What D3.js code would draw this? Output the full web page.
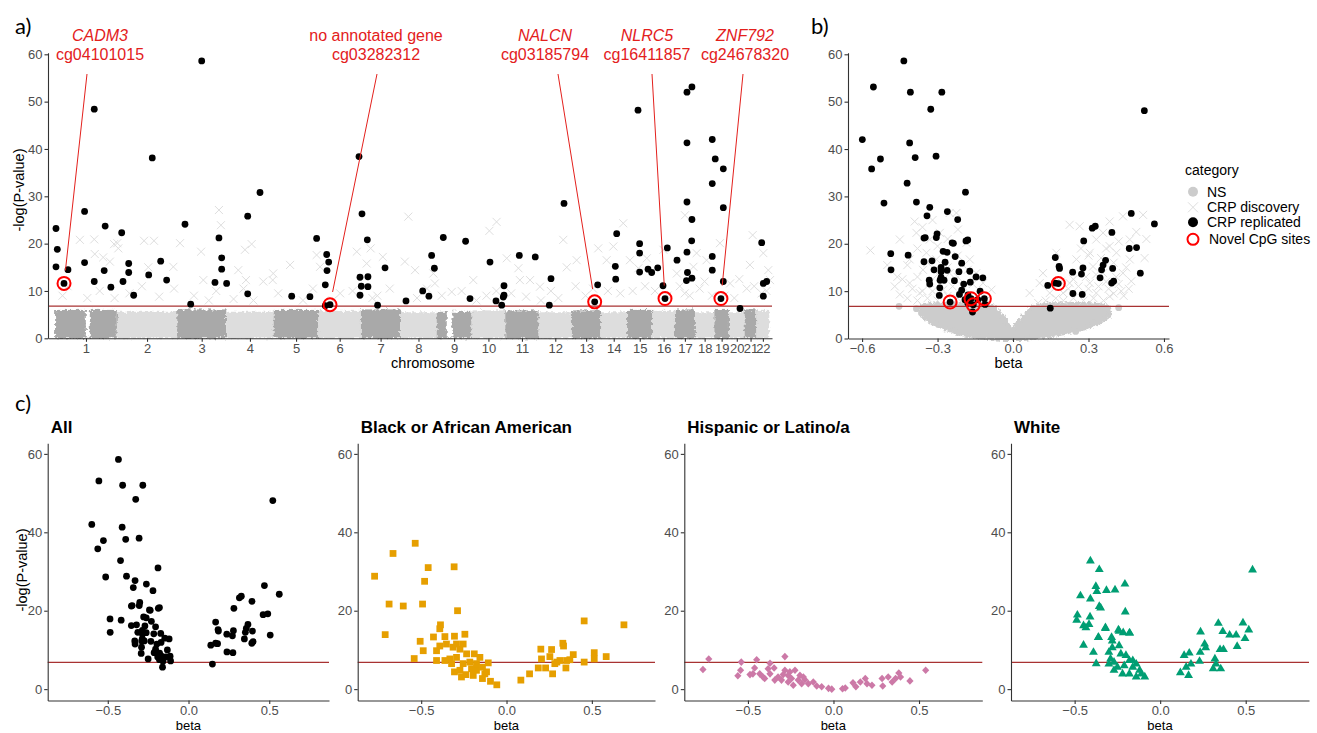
<!DOCTYPE html>
<html>
<head>
<meta charset="utf-8">
<script src="https://cdn.jsdelivr.net/npm/d3@7"></script>
<style>
  body { margin: 0; background: #fff; }
  svg text { font-family: "Liberation Sans", Arial, sans-serif; }
</style>
</head>
<body>
<svg id="fig" width="1317" height="733"></svg>
<script>
// ---- data ----
const chromosomes = ['1','2','3','4','5','6','7','8','9','10','11','12','13','14','15','16','17','18','19','20','21','22'];
// hg19 chromosome lengths, Mb
const chromLengths = [249.25,243.2,198.0,191.15,180.9,171.1,159.1,146.4,141.2,135.5,135.0,133.85,115.2,107.35,102.5,90.35,81.2,78.1,59.1,63.0,48.1,51.3];
// top of the dense non-significant cloud per chromosome
const bandTop = [6.0,5.6,6.1,5.6,6.0,5.8,6.1,5.5,5.6,5.9,5.9,5.5,5.9,5.5,6.0,5.8,6.1,5.5,6.0,5.5,6.1,5.8];
const bandGaps = [[124,140],[1580,1603]];
const threshold = 6.8;

// replicated CpGs, manhattan: [cumulative genome position Mb, -log p]
const replicatedManhattan = [
  [3.6,23.2],[9,18.8],[3.6,15.1],[52,14.5],[119,26.8],[119,16.0],[158,12.0],[158,48.4],[202,23.7],[198,14.3],[225,10.8],
  [268.7,22.3],[274,12.0],[297,15.8],[297,13.9],[317,9.1],[377.6,13.4],[392,38.1],[426,16.3],[450,12.3],
  [524,24.1],[547,7.2],[591.4,58.6],[645,11.8],[661,21.2],[672,17.0],[672,14.6],
  [692,11.6],[777,25.8],[777,9.4],[826.6,30.8],
  [954.5,8.9],[1028,8.8],[1055,21.1],
  [1095.7,17.7],[1103.7,16.1],[1097,14.3],[1090,11.3],[1090,6.9],[1226,38.4],[1230,12.9],[1230,9.1],
  [1238,26.3],[1259.5,20.8],[1235.2,11.0],[1262,13.0],[1262,10.9],[1301,7.0],[1331,14.9],
  [1415.5,7.9],[1483,10.0],[1508,8.9],[1519,17.5],[1530,14.8],
  [1566,21.3],[1656,20.5],[1673.7,8.4],
  [1754.4,16.1],[1778.6,7.9],[1801.6,7.0],[1810.9,11.1],[1810.9,9.1],[1808,8.7],
  [1872.6,17.5],[1937,17.2],
  [2000.5,12.6],[1993.7,7.0],[2053,28.5],
  [2188.8,11.3],
  [2265.5,22.1],[2260,15.2],[2261.5,12.5],
  [2358,20.0],[2358,18.0],[2358,14.0],[2392,14.6],[2406.7,13.9],[2351.5,48.2],
  [2431,14.9],[2452.3,11.1],[2469.7,19.1],
  [2508.8,16.5],[2549,28.8],[2569,25.1],[2568,20.6],[2549,18.2],[2551,13.9],[2547,12.2],[2569,12.7],[2569,53.1],[2549,52.0],[2549,41.3],
  [2651,32.7],[2651,42.0],[2651,17.3],[2651,14.4],
  [2663,37.9],[2695.6,35.8],[2695.6,27.6],[2695.6,12.0],
  [2763,6.3],
  [2850.4,20.2],[2857,11.6],[2870.6,12.0],[2857,8.9]
];

// discovery-only CpGs, manhattan (light crosses)
const discoveryManhattan = [
  [100,20.8],[158,20.9],[160,17.8],[194,17.1],[238,19.9],[251,20.1],[255,19.0],[221,16.2],[359,20.6],[399,20.6],[376,15.0],
  [504,20.1],[477,15.1],[589,18.3],[598,12.3],[661,27.1],[669,23.9],[739,14.4],[766,18.7],[793,19.9],[770,12.3],[840,12.0],
  [880,13.7],[878,12.3],[948,15.5],[1055,17.6],[1069,15.1],[1217,18.3],[1257,15.8],[1273,19.0],[1322,17.2],[1425,25.7],
  [1411,16.2],[1452,14.4],[1526,13.7],[1532,11.6],[1687,12.3],[1752,22.7],[1781,24.6],[1822,16.9],[1869,14.8],[1916,12.3],
  [1875,12.3],[1956,10.9],[2050,20.8],[2064,15.0],[2104,16.5],[2191,19.0],[2225,16.5],[2252,19.4],[2292,24.3],[2319,16.5],
  [2353,14.8],[2387,16.9],[2454,18.7],[2508,13.7],[2541,26.0],[2575,15.1],[2588,18.0],[2628,16.5],[2682,20.1],[2723,11.6],
  [2803,15.5],[2814,21.8],[2857,18.0],[2877,14.4],[2884,12.3],
  [30,9.0],[130,8.5],[300,9.5],[420,8.8],[560,9.0],[720,8.3],[900,9.5],[1000,8.0],[1150,9.5],[1300,9.0],[1460,8.5],
  [1600,9.8],[1740,9.0],[1900,8.8],[2000,10.0],[2140,9.0],[2280,9.5],[2420,10.0],[2540,9.5],[2600,10.5],[2700,9.0],
  [2790,10.5],[2850,9.5],
  [50,11.0],[180,10.0],[240,8.5],[350,11.0],[480,10.5],[620,8.0],[650,10.0],[760,10.5],[800,8.0],[1040,10.5],[1120,8.0],
  [1200,10.0],[1280,8.5],[1350,10.5],[1500,10.5],[1560,9.0],[1640,10.0],[1700,8.0],[1780,10.0],[1840,9.5],[1960,8.0],
  [2030,8.5],[2100,11.0],[2170,10.5],[2230,10.0],[2330,10.0],[2380,11.0],[2470,9.0],[2520,11.0],[2560,9.0],[2620,12.0],
  [2650,9.0],[2740,8.5],[2760,12.5],[2820,11.0],[2870,10.0]
];

// novel CpG sites
const novelGenes = ['CADM3','no annotated gene','NALCN','NLRC5','ZNF792'];
const novelCpgs = ['cg04101015','cg03282312','cg03185794','cg16411857','cg24678320'];
const novelGenePos = [36,1109,2176.7,2460.4,2686];
const novelBeta = [0.18,-0.158,-0.25,-0.114,-0.167];
const novelLogp = [11.6,7.1,7.7,8.4,8.4];

// replicated CpGs, volcano: [beta, -log p]
const replicatedVolcano = [
  [-0.434,58.6],[-0.555,53.1],[-0.408,52.0],[-0.283,52.0],[-0.327,48.4],[-0.599,42.0],[-0.411,41.3],[-0.306,38.5],
  [-0.389,38.2],[-0.527,37.9],[-0.562,35.8],[-0.421,32.8],[-0.189,30.9],[-0.513,28.6],[-0.384,28.8],[-0.331,27.7],
  [-0.261,26.8],[-0.342,25.9],[-0.220,25.1],
  [-0.354,21.2],[-0.349,21.3],[-0.302,22.1],[-0.305,21.3],[-0.242,20.2],[-0.237,20.1],[-0.187,20.6],[-0.180,20.8],
  [-0.486,17.9],[-0.417,17.6],[-0.485,14.5],[-0.278,18.4],[-0.262,18.2],[-0.230,17.3],[-0.354,16.2],[-0.322,16.4],
  [-0.270,16.1],[-0.204,15.9],[-0.314,14.5],[-0.286,15.0],[-0.286,14.1],[-0.262,14.4],[-0.215,14.1],[-0.172,14.2],
  [-0.147,13.0],[-0.120,12.8],[-0.333,12.3],[-0.331,11.5],[-0.290,12.3],[-0.286,12.9],[-0.274,12.3],[-0.233,12.2],
  [-0.196,11.5],[-0.170,11.9],[-0.291,10.7],[-0.204,10.2],[-0.213,9.3],[-0.179,9.2],[-0.131,10.0],[-0.293,9.1],
  [-0.191,8.2],[-0.180,7.5],[-0.111,7.2],[-0.140,8.2],[-0.161,5.6],
  [0.522,48.1],[0.470,26.4],[0.562,24.2],[0.327,23.7],[0.315,23.3],[0.393,22.4],[0.281,20.6],[0.462,19.0],[0.491,19.2],
  [0.506,13.8],[0.168,17.1],[0.183,15.2],[0.185,14.8],[0.138,11.2],[0.168,11.7],[0.237,14.0],[0.278,14.9],[0.272,13.6],
  [0.238,9.5],[0.275,9.3],[0.368,16.5],[0.358,15.5],[0.352,14.5],[0.346,12.8],[0.396,14.8],[0.392,11.7],[0.400,12.1],
  [0.148,6.4]
];

// discovery-only CpGs, volcano (light crosses)
const discoveryVolcano = [
  [-0.567,18.6],[-0.46,13.0],[-0.45,9.3],[-0.391,24.7],[-0.384,22.3],[-0.344,18.1],[-0.358,14.5],[-0.331,11.7],[-0.411,11.7],
  [-0.291,22.3],[-0.252,26.5],[-0.225,26.5],[-0.219,23.0],[-0.185,20.2],[-0.172,16.7],[-0.146,13.8],[-0.119,11.7],[-0.199,11.0],
  [-0.278,10.3],[-0.252,13.8],[-0.371,9.6],[-0.305,16.7],[-0.450,20.9],[-0.411,16.7],[-0.331,20.9],[-0.086,10.3],[-0.106,8.2],
  [0.066,9.6],[0.106,11.7],[0.119,13.8],[0.172,18.1],[0.225,24.0],[0.265,23.7],[0.331,20.9],[0.358,22.3],[0.384,24.7],
  [0.437,25.8],[0.517,26.1],[0.523,17.0],[0.464,16.7],[0.437,13.8],[0.47,12.1],[0.430,10.0],[0.384,8.9],[0.331,9.6],
  [0.305,11.7],[0.225,11.7],[0.199,9.6],[0.146,9.6],[0.252,16.7],[0.305,18.1],[0.358,13.8],[0.411,18.1],[0.464,20.9],
  [0.384,19.5],[0.318,15.2],
  [0.20,8.0],[0.24,8.5],[0.28,8.0],[0.32,8.5],[0.36,8.0],[0.40,9.5],[0.44,9.0],[0.22,10.5],[0.26,11.0],[0.30,10.5],
  [0.34,11.0],[0.38,10.5],[0.42,11.5],[0.46,10.5],[0.24,12.5],[0.29,13.0],[0.33,13.5],[0.37,12.0],[0.41,13.0],[0.45,15.0],
  [0.40,16.0],[0.35,17.0],[0.30,17.5],[0.27,19.0],[0.42,20.5],[0.37,19.0],[0.49,22.5],[0.53,21.0],[0.13,8.0],[0.10,7.5],
  [0.17,8.5],[0.19,12.0],
  [-0.42,8.5],[-0.38,8.0],[-0.34,8.5],[-0.30,8.0],[-0.26,9.0],[-0.22,8.5],[-0.17,8.0],[-0.13,8.5],[-0.40,10.5],[-0.36,10.0],
  [-0.32,10.0],[-0.24,11.0],[-0.16,11.5],[-0.44,12.5],[-0.38,13.0],[-0.30,13.5],[-0.22,13.0],[-0.18,14.5],[-0.42,15.5],
  [-0.34,16.0],[-0.26,15.0],[-0.22,17.5],[-0.38,19.0],[-0.30,19.5],[-0.26,21.0],[-0.36,23.5],[-0.32,25.0],[-0.50,15.5],
  [-0.47,11.0]
];

// outline of the dense non-significant cloud in the volcano plot
const nsEnvelope = [
  [-0.37,6.6],[-0.30,7.2],[-0.20,7.3],[-0.12,7.2],[-0.08,6.6],[-0.045,4.7],[-0.005,1.6],[0.04,4.4],[0.08,6.6],[0.15,7.1],
  [0.30,7.2],[0.38,6.6],[0.385,5.0],[0.34,3.4],[0.28,2.2],[0.20,1.2],[0.12,0.5],[0.04,0.0],[-0.04,0.0],[-0.12,0.3],
  [-0.20,1.0],[-0.25,1.8],[-0.30,2.8],[-0.35,4.4]
];
const nsOutliers = [[-0.453,6.8],[-0.384,6.3],[-0.364,5.4],[0.249,1.5],[0.42,6.5],[0.318,3.3]];

// ancestry-specific results for the replicated CpGs
const blackPts = [
  [-0.535,37.2],[-0.665,34.6],[-0.773,28.8],[-0.459,31.0],[-0.307,31.2],[-0.480,27.5],[-0.688,21.7],[-0.605,21.2],[-0.492,21.7],
  [-0.287,20.0],[-0.711,13.9],[-0.387,16.4],[-0.391,15.4],[-0.428,13.3],[-0.361,13.4],[-0.244,14.0],[-0.305,13.5],[-0.506,12.2],
  [-0.488,9.8],[-0.541,7.8],[-0.410,9.8],[-0.391,11.0],[-0.352,11.5],[-0.313,10.7],[-0.293,11.5],[-0.273,10.2],[-0.254,11.5],
  [-0.410,7.3],[-0.332,7.7],[-0.293,8.1],[-0.234,9.0],[-0.189,9.0],[-0.156,8.1],[-0.107,6.7],[-0.305,4.4],[-0.273,4.8],
  [-0.238,3.7],[-0.205,5.2],[-0.176,4.8],[-0.141,2.7],[-0.117,4.4],[-0.094,2.0],[-0.057,1.1],[-0.322,6.5],[-0.254,6.5],
  [-0.215,6.9],[-0.176,6.5],[-0.141,5.6],[-0.127,3.9],[-0.361,7.3],[-0.264,3.1],[-0.195,3.5],
  [0.084,2.3],[0.135,3.9],[0.186,5.4],[0.201,10.2],[0.205,7.7],[0.229,5.4],[0.254,8.3],[0.264,10.1],[0.270,3.9],[0.295,6.9],
  [0.330,11.7],[0.334,11.0],[0.348,5.4],[0.352,7.3],[0.371,7.5],[0.391,8.8],[0.455,17.4],[0.455,6.9],[0.514,9.3],[0.514,7.7],
  [0.584,8.3],[0.688,16.4],[0.313,7.3],[0.283,6.5]
];
const hispanicPts = [
  [-0.729,7.7],[-0.763,5.0],[-0.539,6.9],[-0.543,4.8],[-0.559,3.4],[-0.449,7.5],[-0.461,5.4],[-0.488,3.7],[-0.471,3.9],
  [-0.431,3.9],[-0.371,6.6],[-0.382,5.2],[-0.347,5.4],[-0.371,3.9],[-0.402,2.7],[-0.412,3.1],[-0.284,8.3],[-0.284,4.8],
  [-0.324,3.1],[-0.343,2.3],[-0.304,2.3],[-0.265,3.5],[-0.225,4.8],[-0.245,2.7],[-0.265,1.8],[-0.235,1.0],[-0.206,2.3],
  [-0.186,1.4],[-0.167,2.4],[-0.147,1.4],[-0.118,1.8],[-0.098,0.8],[-0.069,0.6],[-0.029,0.2],[-0.010,0.0],[0.053,0.1],
  [0.069,0.3],[0.114,1.6],[0.131,0.6],[0.157,1.8],[0.186,2.7],[0.196,1.4],[0.225,1.0],[0.284,2.7],[0.288,0.8],[0.320,3.1],
  [0.343,1.8],[0.363,2.7],[0.382,4.1],[0.392,3.1],[0.447,2.1],[0.539,4.8],[-0.196,3.5],[-0.176,3.1],[-0.294,3.7],[-0.255,4.4]
];
const whitePts = [
  [-0.408,32.7],[-0.356,30.5],[-0.376,26.2],[-0.370,24.9],[-0.314,25.2],[-0.264,25.3],[-0.206,26.8],[-0.466,23.8],[-0.408,23.0],
  [-0.356,21.1],[-0.348,20.7],[-0.204,19.7],[-0.484,18.9],[-0.488,17.6],[-0.448,16.2],[-0.434,15.7],[-0.416,16.5],[-0.410,18.4],
  [-0.320,15.5],[-0.240,14.8],[-0.216,14.4],[-0.178,14.3],[-0.448,11.2],[-0.362,13.2],[-0.284,13.2],[-0.280,12.3],[-0.390,9.4],
  [-0.374,6.5],[-0.300,9.4],[-0.280,10.6],[-0.240,11.1],[-0.290,7.7],[-0.270,6.9],[-0.230,9.0],[-0.200,8.6],[-0.180,7.3],
  [-0.250,5.6],[-0.210,6.0],[-0.160,5.6],[-0.120,4.8],[-0.090,3.1],[-0.140,3.1],[-0.180,3.9],[-0.220,3.9],[-0.270,4.8],
  [-0.300,6.4],[-0.320,15.7],[-0.244,15.1],[-0.180,14.3],[-0.360,13.2],[-0.160,7.3],[-0.140,6.4],[-0.110,3.9],
  [0.118,4.2],[0.140,8.6],[0.170,9.2],[0.152,5.6],[0.166,3.5],[0.180,6.4],[0.230,7.1],[0.234,9.4],[0.236,14.6],[0.260,11.5],
  [0.266,10.6],[0.320,7.7],[0.326,6.4],[0.310,5.2],[0.354,5.2],[0.350,10.1],[0.370,10.1],[0.340,16.8],[0.366,14.7],[0.406,13.8],
  [0.444,13.8],[0.450,10.9],[0.496,12.9],[0.484,16.9],[0.518,15.1],[0.540,30.4]
];

const ancestryTitles = ['All','Black or African American','Hispanic or Latino/a','White'];
const ancestryColors = ['#000000','#E69F00','#CC79A7','#009E73'];
const legendLabels = ['NS','CRP discovery','CRP replicated','Novel CpG sites'];

// ---- drawing ----
const FONT = '"Liberation Sans", Arial, sans-serif';
const RED = '#e3201c';
const LINE_RED = '#a83232';
const CROSS = '#dedede';
const svg = d3.select('#fig');

// roughen the edges of the dense cloud so it reads as many overlapping points
const filt = svg.append('defs').append('filter').attr('id', 'rough')
  .attr('x', '-2%').attr('y', '-10%').attr('width', '104%').attr('height', '120%');
filt.append('feTurbulence').attr('type', 'fractalNoise').attr('baseFrequency', 0.35)
  .attr('numOctaves', 2).attr('seed', 4).attr('result', 'noise');
filt.append('feDisplacementMap').attr('in', 'SourceGraphic').attr('in2', 'noise')
  .attr('scale', 6).attr('xChannelSelector', 'R').attr('yChannelSelector', 'G');

function styleAxis(g) {
  g.select('.domain').attr('stroke', '#333').attr('stroke-width', 1.1);
  g.selectAll('.tick line').attr('stroke', '#333').attr('stroke-width', 1.1);
  g.selectAll('.tick text').attr('fill', '#4d4d4d').style('font-size', '13px').style('font-family', FONT);
}
const crossPath = s => `M${-s},${-s}L${s},${s}M${-s},${s}L${s},${-s}`;

// panel labels
[['a)', 15, 34], ['b)', 811, 34], ['c)', 15, 411]].forEach(([t, x, y]) => {
  svg.append('text').attr('x', x).attr('y', y).text(t)
    .style('font-family', 'Lato, "Open Sans", sans-serif').style('font-size', '22px');
});

// ===== panel a: manhattan =====
const offsets = chromLengths.map((d, i) => d3.sum(chromLengths.slice(0, i)));
const centers = offsets.map((o, i) => o + chromLengths[i] / 2);
const xA = d3.scaleLinear().domain([-28.6, 2892]).range([48, 772]);
const yA = d3.scaleLinear().domain([0, 60.34]).range([338.3, 52.7]);
const gA = svg.append('g');

const bands = gA.append('g').attr('filter', 'url(#rough)');
bands.selectAll('rect.band').data(chromosomes).join('rect')
  .attr('x', (d, i) => xA(offsets[i]))
  .attr('width', (d, i) => xA(offsets[i] + chromLengths[i]) - xA(offsets[i]))
  .attr('y', (d, i) => yA(bandTop[i]))
  .attr('height', (d, i) => yA(0) - yA(bandTop[i]))
  .attr('fill', (d, i) => i % 2 === 0 ? '#a9a9a9' : '#dddddd');
bands.selectAll('rect.gap').data(bandGaps).join('rect')
  .attr('x', d => xA(d[0])).attr('width', d => xA(d[1]) - xA(d[0]))
  .attr('y', yA(7)).attr('height', yA(0) - yA(7) - 1).attr('fill', '#fff');

gA.selectAll('path.cross').data(discoveryManhattan).join('path')
  .attr('transform', d => `translate(${xA(d[0])},${yA(d[1])})`)
  .attr('d', crossPath(4)).attr('stroke', CROSS).attr('stroke-width', 1).attr('fill', 'none');

gA.append('line').attr('x1', 48).attr('x2', 772).attr('y1', yA(threshold)).attr('y2', yA(threshold))
  .attr('stroke', LINE_RED).attr('stroke-width', 1.3);

gA.selectAll('circle.rep').data(replicatedManhattan).join('circle')
  .attr('cx', d => xA(d[0])).attr('cy', d => yA(d[1])).attr('r', 3.4).attr('fill', '#000');
gA.selectAll('circle.nov').data(novelGenePos).join('circle')
  .attr('cx', d => xA(d)).attr('cy', (d, i) => yA(novelLogp[i])).attr('r', 3.4).attr('fill', '#000');
gA.selectAll('circle.ring').data(novelGenePos).join('circle')
  .attr('cx', d => xA(d)).attr('cy', (d, i) => yA(novelLogp[i])).attr('r', 6.5)
  .attr('fill', 'none').attr('stroke', '#ff0000').attr('stroke-width', 2);

// annotation labels and leader lines
const labelX = [100, 376, 545, 647, 745];
const lineTopX = [87, 377, 558, 652, 743];
novelGenes.forEach((g, i) => {
  const px = xA(novelGenePos[i]), py = yA(novelLogp[i]);
  const tx = lineTopX[i], ty = 74;
  const len = Math.hypot(px - tx, py - ty);
  const k = (len - 13) / len;
  gA.append('line').attr('x1', tx).attr('y1', ty)
    .attr('x2', tx + (px - tx) * k).attr('y2', ty + (py - ty) * k)
    .attr('stroke', RED).attr('stroke-width', 1);
  gA.append('text').attr('x', labelX[i]).attr('y', 41).attr('text-anchor', 'middle')
    .attr('fill', RED).style('font-size', '16px')
    .style('font-style', g === 'no annotated gene' ? 'normal' : 'italic').text(g);
  gA.append('text').attr('x', labelX[i]).attr('y', 60).attr('text-anchor', 'middle')
    .attr('fill', RED).style('font-size', '16px').text(novelCpgs[i]);
});

gA.append('g').attr('transform', `translate(0,${yA(0)})`)
  .call(d3.axisBottom(xA).tickValues(centers).tickFormat((d, i) => chromosomes[i])
    .tickSize(3.5).tickPadding(2).tickSizeOuter(0))
  .call(styleAxis);
gA.append('g').attr('transform', 'translate(48,0)')
  .call(d3.axisLeft(yA).tickValues([0, 10, 20, 30, 40, 50, 60]).tickSize(3.5).tickPadding(2).tickSizeOuter(0))
  .call(styleAxis);
gA.append('text').attr('x', 433).attr('y', 368).attr('text-anchor', 'middle')
  .style('font-size', '14.5px').text('chromosome');
gA.append('text').attr('transform', 'translate(24,190) rotate(-90)').attr('text-anchor', 'middle')
  .style('font-size', '14.5px').text('-log(P-value)');

// ===== panel b: volcano =====
const xB = d3.scaleLinear().domain([-0.656, 0.62]).range([848, 1169]);
const yB = d3.scaleLinear().domain([0, 60.34]).range([338.5, 52.7]);
const gB = svg.append('g');

gB.append('path').datum(nsEnvelope)
  .attr('filter', 'url(#rough)')
  .attr('d', d3.line().x(d => xB(d[0])).y(d => yB(d[1])).curve(d3.curveLinearClosed))
  .attr('fill', '#cccccc').attr('stroke', '#cccccc').attr('stroke-width', 5).attr('stroke-linejoin', 'round');
gB.selectAll('circle.ns').data(nsOutliers).join('circle')
  .attr('cx', d => xB(d[0])).attr('cy', d => yB(d[1])).attr('r', 3.4).attr('fill', '#cccccc');
gB.selectAll('path.cross').data(discoveryVolcano).join('path')
  .attr('transform', d => `translate(${xB(d[0])},${yB(d[1])})`)
  .attr('d', crossPath(4)).attr('stroke', CROSS).attr('stroke-width', 1).attr('fill', 'none');
gB.append('line').attr('x1', 848).attr('x2', 1169).attr('y1', yB(threshold)).attr('y2', yB(threshold))
  .attr('stroke', LINE_RED).attr('stroke-width', 1.3);
gB.selectAll('circle.rep').data(replicatedVolcano).join('circle')
  .attr('cx', d => xB(d[0])).attr('cy', d => yB(d[1])).attr('r', 3.4).attr('fill', '#000');
gB.selectAll('circle.nov').data(novelBeta).join('circle')
  .attr('cx', d => xB(d)).attr('cy', (d, i) => yB(novelLogp[i])).attr('r', 3.4).attr('fill', '#000');
gB.selectAll('circle.ring').data(novelBeta).join('circle')
  .attr('cx', d => xB(d)).attr('cy', (d, i) => yB(novelLogp[i])).attr('r', 6.5)
  .attr('fill', 'none').attr('stroke', '#ff0000').attr('stroke-width', 2);

gB.append('g').attr('transform', `translate(0,${yB(0)})`)
  .call(d3.axisBottom(xB).tickValues([-0.6, -0.3, 0, 0.3, 0.6]).tickFormat(d3.format('.1f'))
    .tickSize(3.5).tickPadding(2).tickSizeOuter(0))
  .call(styleAxis);
gB.append('g').attr('transform', 'translate(848,0)')
  .call(d3.axisLeft(yB).tickValues([0, 10, 20, 30, 40, 50, 60]).tickSize(3.5).tickPadding(2).tickSizeOuter(0))
  .call(styleAxis);
gB.append('text').attr('x', 1008.5).attr('y', 368).attr('text-anchor', 'middle')
  .style('font-size', '14.5px').text('beta');

// legend
const lg = svg.append('g').attr('transform', 'translate(1185,0)');
lg.append('text').attr('x', 0).attr('y', 175).style('font-size', '14px').text('category');
const legY = [191.7, 207.3, 222.3, 239.3];
legendLabels.forEach((t, i) => {
  const cy = legY[i];
  if (i === 0) lg.append('circle').attr('cx', 8).attr('cy', cy).attr('r', 5).attr('fill', '#cccccc');
  if (i === 1) lg.append('path').attr('transform', `translate(8,${cy})`).attr('d', crossPath(5))
    .attr('stroke', CROSS).attr('stroke-width', 1).attr('fill', 'none');
  if (i === 2) lg.append('circle').attr('cx', 8).attr('cy', cy).attr('r', 5).attr('fill', '#000');
  if (i === 3) lg.append('circle').attr('cx', 8).attr('cy', cy).attr('r', 5.5)
    .attr('fill', 'none').attr('stroke', '#ff0000').attr('stroke-width', 2);
  lg.append('text').attr('x', i === 3 ? 24 : 22).attr('y', cy + 5).style('font-size', '14px').text(t);
});

// ===== panel c: ancestry-specific volcano plots =====
const panelRanges = [[47.7, 329], [357.7, 655], [684.3, 982.3], [1011, 1309]];
const yC = d3.scaleLinear().domain([-2.9, 62.7]).range([700.5, 443.3]);
const allPts = replicatedVolcano.concat(novelBeta.map((b, i) => [b, novelLogp[i]]));
const ancestryData = [allPts, blackPts, hispanicPts, whitePts];
const shapes = [
  d3.symbol(d3.symbolCircle, 36)(),
  d3.symbol(d3.symbolSquare, 46)(),
  'M0,-3.8L3.6,0L0,3.8L-3.6,0Z',
  d3.symbol(d3.symbolTriangle, 34)()
];

ancestryTitles.forEach((title, k) => {
  const [x0, x1] = panelRanges[k];
  const xC = d3.scaleLinear().domain([-0.872, 0.87]).range([x0, x1]);
  const g = svg.append('g');
  g.append('line').attr('x1', x0).attr('x2', x1).attr('y1', yC(threshold)).attr('y2', yC(threshold))
    .attr('stroke', LINE_RED).attr('stroke-width', 1.3);
  g.selectAll('path.pt').data(ancestryData[k]).join('path')
    .attr('transform', d => `translate(${xC(d[0])},${yC(d[1])})`)
    .attr('d', shapes[k]).attr('fill', ancestryColors[k]);
  g.append('g').attr('transform', `translate(0,${yC.range()[0]})`)
    .call(d3.axisBottom(xC).tickValues([-0.5, 0, 0.5]).tickFormat(d3.format('.1f'))
      .tickSize(3.5).tickPadding(1.5).tickSizeOuter(0))
    .call(styleAxis);
  g.append('g').attr('transform', `translate(${x0},0)`)
    .call(d3.axisLeft(yC).tickValues([0, 20, 40, 60]).tickSize(3.5).tickPadding(2).tickSizeOuter(0))
    .call(styleAxis);
  g.append('text').attr('x', x0 + 3).attr('y', 433).style('font-size', '17px').style('font-weight', 'bold').text(title);
  g.append('text').attr('x', (x0 + x1) / 2).attr('y', 730).attr('text-anchor', 'middle')
    .style('font-size', '13px').text('beta');
  if (k === 0) {
    g.append('text').attr('transform', 'translate(27,570) rotate(-90)').attr('text-anchor', 'middle')
      .style('font-size', '14.5px').text('-log(P-value)');
  }
});
</script>
</body>
</html>
